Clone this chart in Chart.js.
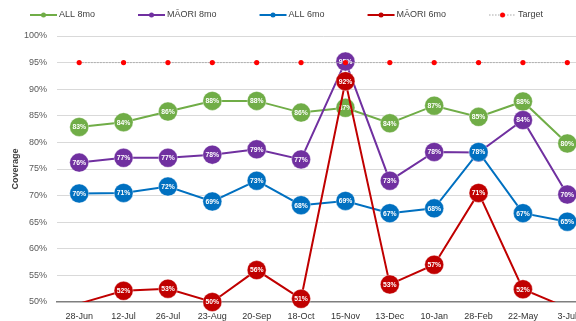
<!DOCTYPE html>
<html>
<head>
<meta charset="utf-8">
<script src="https://cdn.jsdelivr.net/npm/chart.js@4/dist/chart.umd.min.js"></script>
<style>
  body { margin: 0; background: #fff; }
  #wrap { width: 576px; height: 321px; overflow: hidden; }
</style>
</head>
<body>
<div id="wrap"><canvas id="coverageChart" width="600" height="321"></canvas></div>
<script>
const dates = ["28-Jun", "12-Jul", "26-Jul", "23-Aug", "20-Sep", "18-Oct", "15-Nov", "13-Dec", "10-Jan", "28-Feb", "22-May", "3-Jul"];

const all8mo = [82.9, 83.8, 85.8, 87.8, 87.8, 85.6, 86.5, 83.6, 86.9, 84.8, 87.7, 79.8];
const maori8mo = [76.2, 77.1, 77.1, 77.7, 78.7, 76.8, 95.2, 72.8, 78.2, 78.1, 84.2, 70.2];
const all6mo = [70.4, 70.5, 71.7, 68.9, 72.8, 68.2, 69.0, 66.7, 67.6, 78.2, 66.7, 65.1];
const maori6mo = [49.7, 52.1, 52.5, 50.0, 56.0, 50.6, 91.5, 53.3, 57.0, 70.5, 52.4, 48.9];
const target = [95, 95, 95, 95, 95, 95, 95, 95, 95, 95, 95, 95];

const yTicks = [50, 55, 60, 65, 70, 75, 80, 85, 90, 95, 100];

const FONT = "'Liberation Sans', Arial, sans-serif";
const Y_MIN = yTicks[0];
const Y_MAX = yTicks[yTicks.length - 1];

function series(label, data, color, order) {
  return {
    label,
    data,
    order,
    borderColor: color,
    backgroundColor: color,
    borderWidth: 2,
    pointRadius: c => (c.raw < Y_MIN ? 0 : 9.5),
    pointBorderColor: "rgba(255,255,255,0.35)",
    pointBorderWidth: 1,
    pointBackgroundColor: color,
    tension: 0,
    showLabels: true
  };
}

const datasets = [
  series("ALL 8mo", all8mo, "#70AD47", 4),
  series("MĀORI 8mo", maori8mo, "#7030A0", 3),
  series("ALL 6mo", all6mo, "#0070C0", 2),
  Object.assign(series("MĀORI 6mo", maori6mo, "#C00000", 1), { clip: false, floorClip: true }),
  {
    label: "Target",
    data: target,
    order: 0,
    borderColor: "#A6A6A6",
    borderWidth: 1,
    borderDash: [1.5, 1.5],
    pointRadius: 2.6,
    pointBorderWidth: 0,
    pointBackgroundColor: "#FF0000",
    backgroundColor: "#FF0000",
    legendDotted: true
  }
];

// value labels inside the markers, and clipping of the line that drops under the 50% floor
const pointLabels = {
  id: "pointLabels",
  beforeDatasetDraw(chart, args) {
    const ds = chart.data.datasets[args.index];
    if (!ds.floorClip) return;
    const { ctx, chartArea: a } = chart;
    ctx.save();
    ctx.beginPath();
    ctx.rect(a.left, 0, a.right - a.left, a.bottom);
    args.meta.data.forEach((pt, i) => {
      if (ds.data[i] >= Y_MIN) ctx.rect(pt.x - 11, a.bottom - 1, 22, 12);
    });
    ctx.clip();
  },
  afterDatasetDraw(chart, args) {
    const ds = chart.data.datasets[args.index];
    const ctx = chart.ctx;
    if (ds.floorClip) ctx.restore();
    if (!ds.showLabels) return;
    ctx.save();
    ctx.fillStyle = "#fff";
    ctx.font = "bold 6.8px " + FONT;
    ctx.textAlign = "center";
    ctx.textBaseline = "middle";
    args.meta.data.forEach((pt, i) => {
      const v = ds.data[i];
      if (v < Y_MIN) return;
      ctx.fillText(Math.round(v) + "%", pt.x, pt.y + 0.5);
    });
    ctx.restore();
  }
};

// legend row: short line with a marker in the middle, then the series name
const lineLegend = {
  id: "lineLegend",
  afterDraw(chart) {
    const ctx = chart.ctx;
    const y = 15;
    let x = 30;
    ctx.save();
    ctx.font = "9px " + FONT;
    ctx.textBaseline = "middle";
    chart.data.datasets.forEach(ds => {
      ctx.beginPath();
      ctx.strokeStyle = ds.borderColor;
      ctx.lineWidth = ds.legendDotted ? 1 : 2;
      ctx.setLineDash(ds.legendDotted ? [1.5, 1.5] : []);
      ctx.moveTo(x, y);
      ctx.lineTo(x + 27, y);
      ctx.stroke();
      ctx.setLineDash([]);
      ctx.beginPath();
      ctx.fillStyle = ds.legendDotted ? "#FF0000" : ds.borderColor;
      ctx.arc(x + 13.5, y, 2.5, 0, Math.PI * 2);
      ctx.fill();
      ctx.fillStyle = "#404040";
      ctx.fillText(ds.label, x + 29, y);
      x += 29 + ctx.measureText(ds.label).width + 43;
    });
    ctx.restore();
  }
};

const ctx = document.getElementById("coverageChart");

new Chart(ctx, {
  type: "line",
  data: { labels: dates, datasets },
  options: {
    responsive: false,
    animation: false,
    events: [],
    layout: { padding: { top: 36, right: 8, left: 0, bottom: 0 } },
    plugins: {
      legend: { display: false },
      tooltip: { enabled: false }
    },
    scales: {
      x: {
        offset: true,
        grid: { display: false, offset: true },
        border: { color: "#7F7F7F", width: 1.5 },
        ticks: {
          color: "#333333",
          font: { family: FONT, size: 9 },
          padding: 1,
          maxRotation: 0,
          autoSkip: false
        },
        afterFit: s => { s.height = 19; }
      },
      y: {
        min: Y_MIN,
        max: Y_MAX,
        afterBuildTicks: s => { s.ticks = yTicks.map(v => ({ value: v })); },
        ticks: {
          callback: v => v + "%",
          color: "#595959",
          font: { family: FONT, size: 9 },
          padding: 10
        },
        grid: {
          color: c => (c.tick && c.tick.value === Y_MIN ? "rgba(0,0,0,0)" : "#D9D9D9"),
          lineWidth: 1,
          drawTicks: false
        },
        border: { display: false },
        title: {
          display: true,
          text: "Coverage",
          color: "#404040",
          font: { family: FONT, size: 9, weight: "bold" },
          padding: { top: 10, bottom: 0 }
        },
        afterFit: s => { s.width = 57; }
      }
    }
  },
  plugins: [pointLabels, lineLegend]
});
</script>
</body>
</html>
